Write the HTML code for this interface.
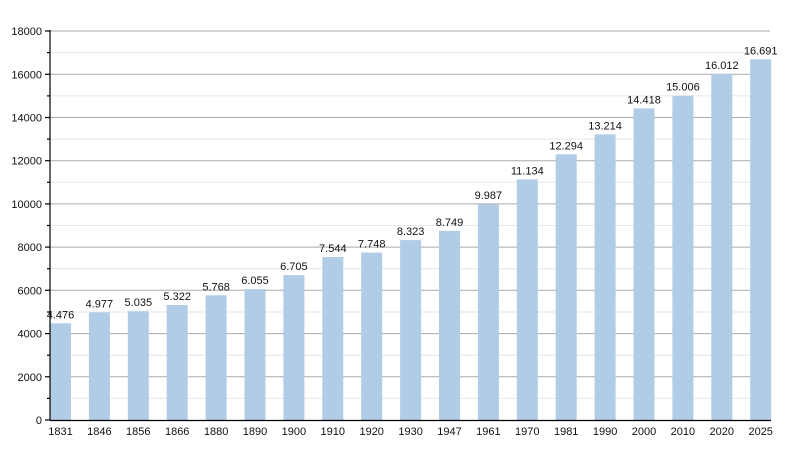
<!DOCTYPE html>
<html><head><meta charset="utf-8"><style>body{margin:0;background:#fff}svg{display:block}text{font-family:"Liberation Sans",sans-serif;font-size:11px;fill:#111}</style></head><body>
<svg width="800" height="450" xmlns="http://www.w3.org/2000/svg">
<g stroke="#e6e6e6" stroke-width="1">
<line x1="50" x2="770" y1="398.4" y2="398.4"/><line x1="50" x2="770" y1="355.2" y2="355.2"/><line x1="50" x2="770" y1="312" y2="312"/><line x1="50" x2="770" y1="268.7" y2="268.7"/><line x1="50" x2="770" y1="225.5" y2="225.5"/><line x1="50" x2="770" y1="182.3" y2="182.3"/><line x1="50" x2="770" y1="139.1" y2="139.1"/><line x1="50" x2="770" y1="95.9" y2="95.9"/><line x1="50" x2="770" y1="52.6" y2="52.6"/>
</g>
<g stroke="#aaa" stroke-width="1">
<line x1="50" x2="770" y1="376.8" y2="376.8"/><line x1="50" x2="770" y1="333.6" y2="333.6"/><line x1="50" x2="770" y1="290.3" y2="290.3"/><line x1="50" x2="770" y1="247.1" y2="247.1"/><line x1="50" x2="770" y1="203.9" y2="203.9"/><line x1="50" x2="770" y1="160.7" y2="160.7"/><line x1="50" x2="770" y1="117.5" y2="117.5"/><line x1="50" x2="770" y1="74.3" y2="74.3"/><line x1="50" x2="770" y1="31" y2="31"/>
</g>
<g fill="#b0cce6">
<rect x="50" y="323.3" width="21" height="96.7"/><rect x="88.9" y="312.4" width="21" height="107.6"/><rect x="127.8" y="311.2" width="21" height="108.8"/><rect x="166.7" y="305" width="21" height="115"/><rect x="205.6" y="295.3" width="21" height="124.7"/><rect x="244.5" y="289.1" width="21" height="130.9"/><rect x="283.4" y="275.1" width="21" height="144.9"/><rect x="322.3" y="257" width="21" height="163"/><rect x="361.2" y="252.6" width="21" height="167.4"/><rect x="400.1" y="240.1" width="21" height="179.9"/><rect x="439" y="230.9" width="21" height="189.1"/><rect x="477.9" y="204.2" width="21" height="215.8"/><rect x="516.8" y="179.4" width="21" height="240.6"/><rect x="555.7" y="154.3" width="21" height="265.7"/><rect x="594.6" y="134.4" width="21" height="285.6"/><rect x="633.5" y="108.4" width="21" height="311.6"/><rect x="672.4" y="95.7" width="21" height="324.3"/><rect x="711.3" y="74" width="21" height="346"/><rect x="750.2" y="59.3" width="21" height="360.7"/>
</g>
<g stroke="#000" stroke-width="1.2">
<line x1="50" y1="30" x2="50" y2="420.5"/><line x1="50" y1="420.5" x2="771" y2="420.5"/>
<line x1="45" x2="50" y1="420" y2="420"/><line x1="45" x2="50" y1="376.8" y2="376.8"/><line x1="45" x2="50" y1="333.6" y2="333.6"/><line x1="45" x2="50" y1="290.3" y2="290.3"/><line x1="45" x2="50" y1="247.1" y2="247.1"/><line x1="45" x2="50" y1="203.9" y2="203.9"/><line x1="45" x2="50" y1="160.7" y2="160.7"/><line x1="45" x2="50" y1="117.5" y2="117.5"/><line x1="45" x2="50" y1="74.3" y2="74.3"/><line x1="45" x2="50" y1="31" y2="31"/>
<line x1="47" x2="50" y1="398.4" y2="398.4"/><line x1="47" x2="50" y1="355.2" y2="355.2"/><line x1="47" x2="50" y1="312" y2="312"/><line x1="47" x2="50" y1="268.7" y2="268.7"/><line x1="47" x2="50" y1="225.5" y2="225.5"/><line x1="47" x2="50" y1="182.3" y2="182.3"/><line x1="47" x2="50" y1="139.1" y2="139.1"/><line x1="47" x2="50" y1="95.9" y2="95.9"/><line x1="47" x2="50" y1="52.6" y2="52.6"/>
</g>
<g text-anchor="end">
<text x="42" y="424">0</text><text x="42" y="380.8">2000</text><text x="42" y="337.6">4000</text><text x="42" y="294.3">6000</text><text x="42" y="251.1">8000</text><text x="42" y="207.9">10000</text><text x="42" y="164.7">12000</text><text x="42" y="121.5">14000</text><text x="42" y="78.3">16000</text><text x="42" y="35">18000</text>
</g>
<g text-anchor="middle">
<text x="60.5" y="318.3">4.476</text><text x="99.4" y="307.4">4.977</text><text x="138.3" y="306.2">5.035</text><text x="177.2" y="300">5.322</text><text x="216.1" y="290.3">5.768</text><text x="255" y="284.1">6.055</text><text x="293.9" y="270.1">6.705</text><text x="332.8" y="252">7.544</text><text x="371.7" y="247.6">7.748</text><text x="410.6" y="235.1">8.323</text><text x="449.5" y="225.9">8.749</text><text x="488.4" y="199.2">9.987</text><text x="527.3" y="174.4">11.134</text><text x="566.2" y="149.3">12.294</text><text x="605.1" y="129.4">13.214</text><text x="644" y="103.4">14.418</text><text x="682.9" y="90.7">15.006</text><text x="721.8" y="69">16.012</text><text x="760.7" y="54.3">16.691</text>
<text x="60.5" y="435">1831</text><text x="99.4" y="435">1846</text><text x="138.3" y="435">1856</text><text x="177.2" y="435">1866</text><text x="216.1" y="435">1880</text><text x="255" y="435">1890</text><text x="293.9" y="435">1900</text><text x="332.8" y="435">1910</text><text x="371.7" y="435">1920</text><text x="410.6" y="435">1930</text><text x="449.5" y="435">1947</text><text x="488.4" y="435">1961</text><text x="527.3" y="435">1970</text><text x="566.2" y="435">1981</text><text x="605.1" y="435">1990</text><text x="644" y="435">2000</text><text x="682.9" y="435">2010</text><text x="721.8" y="435">2020</text><text x="760.7" y="435">2025</text>
</g>
</svg>
</body></html>
